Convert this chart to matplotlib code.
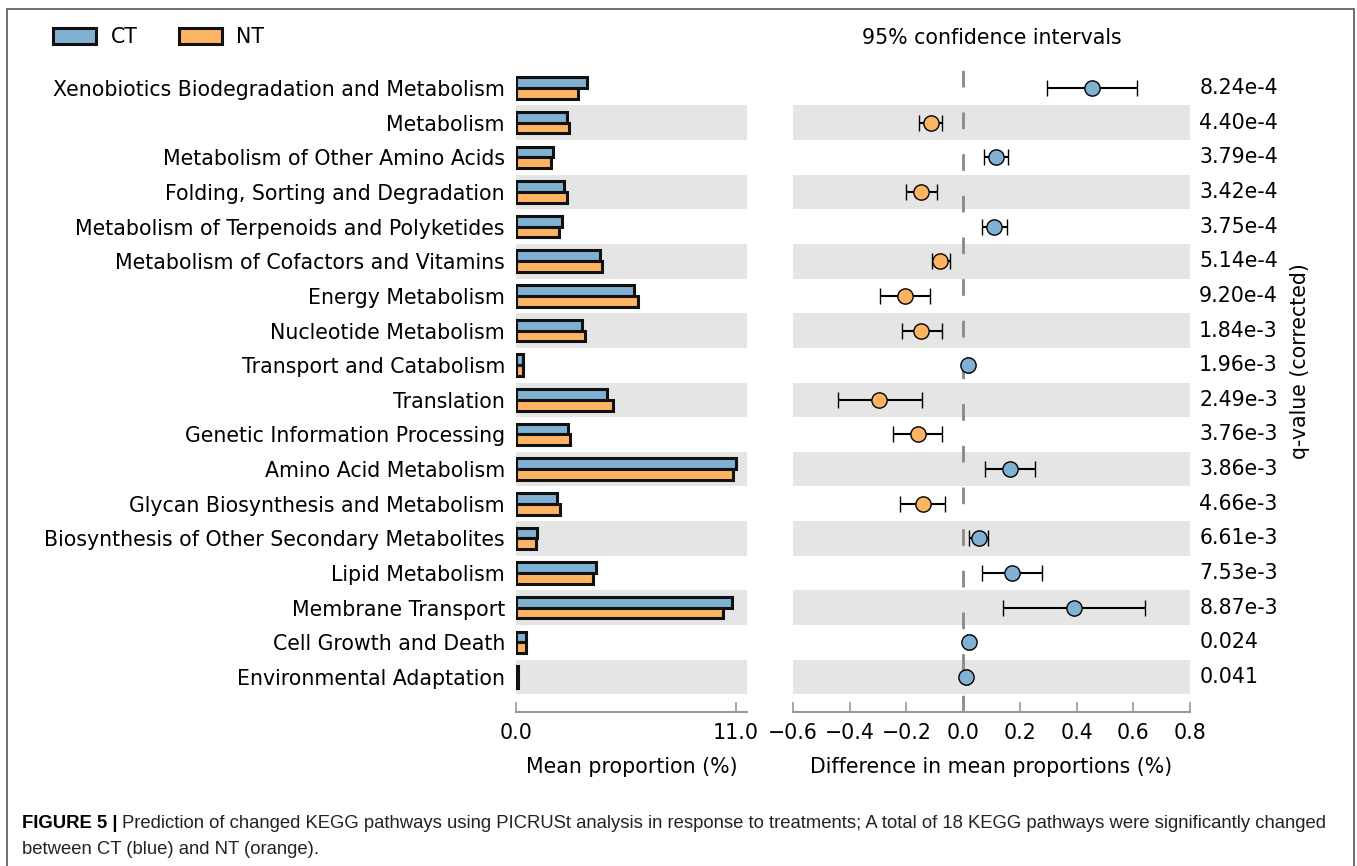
import matplotlib
matplotlib.use('Agg')
import matplotlib.pyplot as plt
from matplotlib.patches import Patch, Rectangle
import matplotlib.transforms as mtransforms

plt.rcParams['font.family'] = ['DejaVu Sans']

# data (top to bottom)
pathways = ['Xenobiotics Biodegradation and Metabolism', 'Metabolism',
            'Metabolism of Other Amino Acids', 'Folding, Sorting and Degradation',
            'Metabolism of Terpenoids and Polyketides', 'Metabolism of Cofactors and Vitamins',
            'Energy Metabolism', 'Nucleotide Metabolism', 'Transport and Catabolism',
            'Translation', 'Genetic Information Processing', 'Amino Acid Metabolism',
            'Glycan Biosynthesis and Metabolism', 'Biosynthesis of Other Secondary Metabolites',
            'Lipid Metabolism', 'Membrane Transport', 'Cell Growth and Death',
            'Environmental Adaptation']
ct_mean = [3.57, 2.53, 1.83, 2.40, 2.30, 4.20, 5.90, 3.30, 0.35, 4.57,
           2.58, 11.0, 2.05, 1.05, 4.00, 10.78, 0.50, 0.08]
nt_mean = [3.10, 2.67, 1.73, 2.53, 2.17, 4.30, 6.08, 3.45, 0.35, 4.83,
           2.72, 10.87, 2.20, 1.02, 3.83, 10.37, 0.50, 0.08]
diff = [0.455, -0.115, 0.116, -0.147, 0.110, -0.080, -0.206, -0.148, 0.018, -0.295,
        -0.160, 0.167, -0.141, 0.055, 0.173, 0.390, 0.020, 0.011]
ci_low = [0.296, -0.156, 0.073, -0.201, 0.067, -0.109, -0.292, -0.217, 0.012, -0.440,
          -0.247, 0.078, -0.221, 0.022, 0.065, 0.140, 0.012, 0.005]
ci_high = [0.614, -0.073, 0.159, -0.092, 0.154, -0.047, -0.118, -0.075, 0.024, -0.146,
           -0.073, 0.254, -0.065, 0.088, 0.279, 0.642, 0.028, 0.017]
qvals = ['8.24e-4', '4.40e-4', '3.79e-4', '3.42e-4', '3.75e-4', '5.14e-4', '9.20e-4',
         '1.84e-3', '1.96e-3', '2.49e-3', '3.76e-3', '3.86e-3', '4.66e-3', '6.61e-3',
         '7.53e-3', '8.87e-3', '0.024', '0.041']

blue = '#80b1d3'
orange = '#fdb462'
band = '#e5e5e5'
fs = 14.8

W, H = 1357, 866
fig = plt.figure(figsize=(W / 100, H / 100), dpi=100)

top, bot = 58, 712
ax1 = fig.add_axes([516 / W, 1 - bot / H, 231 / W, (bot - top) / H])
ax2 = fig.add_axes([793 / W, 1 - bot / H, 397 / W, (bot - top) / H])

n = len(pathways)
ypos = list(range(n))
ylim = (18.01, -0.866)

for ax in (ax1, ax2):
    for i in ypos:
        if i % 2 == 1:
            ax.axhspan(i - 0.5, i + 0.5, color=band, lw=0, zorder=0)
    ax.set_ylim(*ylim)
    for s in ('top', 'left', 'right'):
        ax.spines[s].set_visible(False)
    ax.spines['bottom'].set_color('#999999')
    ax.spines['bottom'].set_linewidth(1.5)
    ax.tick_params(axis='x', direction='in', length=7, width=1.2, color='#999999',
                   labelsize=fs, pad=8)

# left: mean proportions
h = 0.31
ax1.barh([y - h / 2 for y in ypos], ct_mean, height=h, color=blue, edgecolor='#111111', lw=2.2, zorder=2)
ax1.barh([y + h / 2 for y in ypos], nt_mean, height=h, color=orange, edgecolor='#111111', lw=2.2, zorder=2)
ax1.set_xlim(0, 11.55)
ax1.set_xticks([0, 11])
ax1.set_xticklabels(['0.0', '11.0'])
ax1.set_yticks(ypos)
ax1.set_yticklabels(pathways, fontsize=fs)
ax1.tick_params(axis='y', length=0, pad=8)
ax1.set_xlabel('Mean proportion (%)', fontsize=fs, labelpad=10)

# right: difference with 95% CI
ax2.axvline(0, color='#888888', lw=2, ls=(0, (6, 9)), zorder=1)
for i in ypos:
    c = blue if diff[i] > 0 else orange
    ax2.errorbar(diff[i], i, xerr=[[diff[i] - ci_low[i]], [ci_high[i] - diff[i]]],
                 fmt='o', color='black', ecolor='black', elinewidth=1.5, capsize=6,
                 capthick=1.5, markersize=11, markerfacecolor=c, markeredgecolor='black',
                 markeredgewidth=1, zorder=3)
ax2.set_xlim(-0.6, 0.8)
ax2.set_xticks([-0.6, -0.4, -0.2, 0.0, 0.2, 0.4, 0.6, 0.8])
ax2.set_xticklabels(['\u22120.6', '\u22120.4', '\u22120.2', '0.0', '0.2', '0.4', '0.6', '0.8'])
ax2.set_yticks([])
ax2.set_xlabel('Difference in mean proportions (%)', fontsize=fs, labelpad=10)
ax2.set_title('95% confidence intervals', fontsize=fs, pad=10, x=0.5)

trans = mtransforms.blended_transform_factory(ax2.transAxes, ax2.transData)
for i in ypos:
    ax2.text(1.023, i, qvals[i], transform=trans, fontsize=fs, va='center', ha='left')
fig.text(1300 / W, 1 - 361 / H, 'q-value (corrected)', rotation=90, fontsize=fs,
         va='center', ha='center')

# legend
handles = [Patch(facecolor=blue, edgecolor='#111111', lw=2.2, label='CT'),
           Patch(facecolor=orange, edgecolor='#111111', lw=2.2, label='NT')]
fig.legend(handles=handles, loc='center left', bbox_to_anchor=(53 / W, 1 - 37 / H),
           ncol=2, frameon=False, fontsize=fs, handlelength=2.1, handleheight=0.8,
           handletextpad=0.7, columnspacing=2.0, borderpad=0, borderaxespad=0)

# frame and caption
fig.patches.append(Rectangle((7 / W, -0.05), 1347 / W, 1.05 - 9 / H, transform=fig.transFigure,
                             fill=False, edgecolor='#555555', lw=1.2))
cap_font = ['Liberation Sans Narrow', 'Liberation Sans']
cfs = 13.3
t1 = fig.text(22 / W, 1 - 823 / H, 'FIGURE 5 |', fontsize=cfs, fontweight='bold',
              family=cap_font, va='center', ha='left')
ax1.annotate('Prediction of changed KEGG pathways using PICRUSt analysis in response to treatments; '
             'A total of 18 KEGG pathways were significantly changed',
             xy=(1, 0.5), xycoords=t1, xytext=(3, 0), textcoords='offset points',
             fontsize=cfs, family=cap_font, va='center', ha='left', color='#222222',
             annotation_clip=False)
fig.text(22 / W, 1 - 850 / H, 'between CT (blue) and NT (orange).', fontsize=cfs,
         family=cap_font, va='center', ha='left', color='#222222')

fig.savefig('out.png', dpi=100)
